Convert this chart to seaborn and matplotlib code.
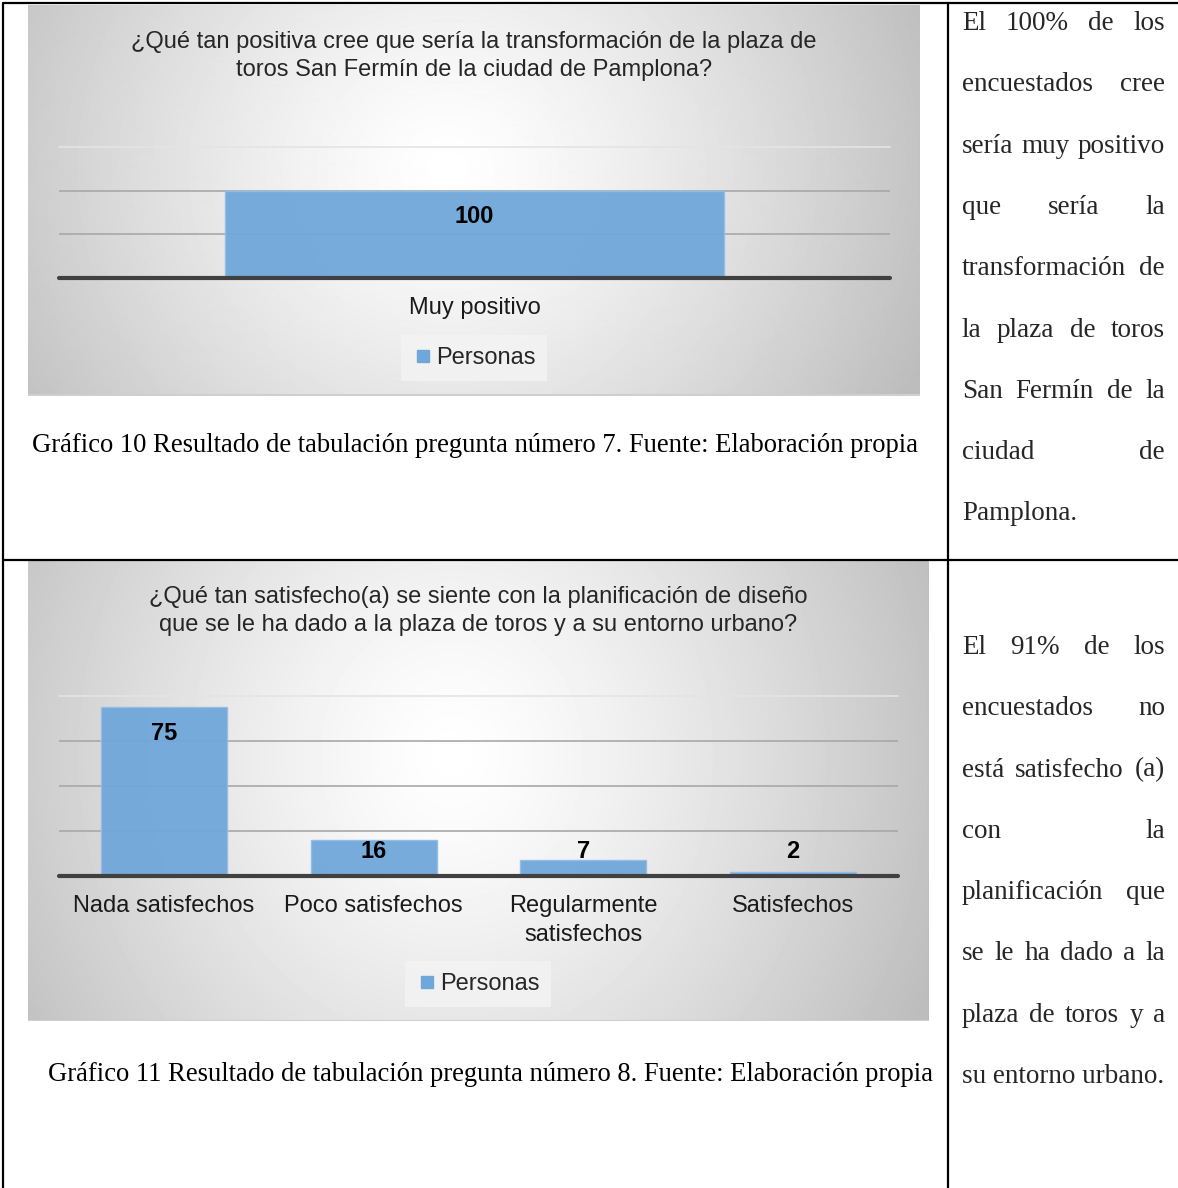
import numpy as np
import matplotlib
matplotlib.use("Agg")
import matplotlib.pyplot as plt
import seaborn as sns
from matplotlib.lines import Line2D

W, H = 1178, 1188

# ---- data ----
q7_title = ("¿Qué tan positiva cree que sería la transformación de la plaza de\n"
            "toros San Fermín de la ciudad de Pamplona?")
q7_categories = ["Muy positivo"]
q7_values = [100]
q7_yticks = [0, 50, 100, 150]

q8_title = ("¿Qué tan satisfecho(a) se siente con la planificación de diseño\n"
            "que se le ha dado a la plaza de toros y a su entorno urbano?")
q8_categories = ["Nada satisfechos", "Poco satisfechos", "Regularmente\nsatisfechos", "Satisfechos"]
q8_values = [75, 16, 7, 2]
q8_yticks = [0, 20, 40, 60, 80]

series_name = "Personas"

caption_10 = "Gráfico 10 Resultado de tabulación pregunta número 7. Fuente: Elaboración propia"
caption_11 = "Gráfico 11 Resultado de tabulación pregunta número 8. Fuente: Elaboración propia"

note_10 = ["El 100% de los", "encuestados cree", "sería muy positivo", "que sería la",
           "transformación de", "la plaza de toros", "San Fermín de la", "ciudad de", "Pamplona."]
note_11 = ["El 91% de los", "encuestados no", "está satisfecho (a)", "con la",
           "planificación que", "se le ha dado a la", "plaza de toros y a", "su entorno urbano."]

BLUE = "#6fa7da"
SANS = ["Liberation Sans", "DejaVu Sans"]
SERIF = ["Liberation Serif", "DejaVu Serif"]
FS = 17

sns.set_style("white")
plt.rcParams["font.family"] = SANS


def fx(px):
    return px / W


def fy(py):
    return 1 - py / H


def px_axes(fig, x0, y0, x1, y1, **kw):
    return fig.add_axes([x0 / W, 1 - y1 / H, (x1 - x0) / W, (y1 - y0) / H], **kw)


def gradient_panel(fig, x0, y0, x1, y1):
    """Grey radial-gradient chart area like the Excel style."""
    ax = px_axes(fig, x0, y0, x1, y1, zorder=0)
    w, h = x1 - x0, y1 - y0
    xx, yy = np.meshgrid(np.arange(w), np.arange(h))
    cx, cy = 0.47 * w, 0.42 * h
    d = np.hypot((xx - cx) / (0.58 * w), (yy - cy) / (1.25 * h))
    shade = 1 - 0.26 * np.clip(d, 0, 1) ** 1.3
    ax.imshow(shade, cmap="gray", vmin=0, vmax=1, aspect="auto", interpolation="bilinear")
    ax.axhline(h - 1, color="#cfcfcf", lw=1.5)
    ax.axis("off")


def bar_chart(fig, box, cats, vals, yticks, legend_xy):
    x0, y0, x1, y1 = box
    ax = px_axes(fig, x0, y0, x1, y1, zorder=2)
    ax.patch.set_alpha(0)
    sns.barplot(x=cats, y=vals, color=BLUE, saturation=1, width=0.6, alpha=0.95,
                edgecolor="#92bde6", linewidth=1, ax=ax, zorder=2)
    ymax = yticks[-1]
    ax.set_ylim(0, ymax)
    ax.set_xlim(-0.5, len(cats) - 0.5)
    for t in yticks[1:-1]:
        ax.axhline(t, color="#a8a8a8", lw=1.2, zorder=0.5)
    ax.axhline(ymax, color="#e4e4e4", lw=1.2, zorder=0.5, clip_on=False)
    ax.axhline(0, color="#404040", lw=3, zorder=3, clip_on=False)

    # value labels: inside the bar end, but never too close to the baseline
    ppu = (y1 - y0) / ymax
    for i, v in enumerate(vals):
        ly = max(v - 26 / ppu, 24 / ppu)
        ax.text(i, ly, str(v), ha="center", va="center", fontsize=17, fontweight="bold",
                color="black", zorder=4)

    for s in ax.spines.values():
        s.set_visible(False)
    ax.set_yticks([])
    ax.set_xlabel("")
    ax.set_ylabel("")
    ax.tick_params(axis="x", length=0, pad=14, labelsize=FS, colors="#1a1a1a")
    for lbl in ax.get_xticklabels():
        lbl.set_linespacing(1.4)

    handle = Line2D([], [], marker="s", color=BLUE, linestyle="none", markersize=8)
    fig.legend(handles=[handle], labels=[series_name], loc="center",
               bbox_to_anchor=(fx(legend_xy[0]), fy(legend_xy[1])),
               frameon=True, fancybox=False, facecolor="#f3f3f3", edgecolor="none",
               framealpha=0.85, fontsize=FS, handletextpad=0.1, borderpad=0.5,
               handlelength=0.9)
    return ax


def fitted_caption(fig, renderer, text, x0, x1, y_base):
    t = fig.text(fx((x0 + x1) / 2), fy(y_base), text, ha="center", va="baseline",
                 family=SERIF, fontsize=17, color="black")
    w = t.get_window_extent(renderer).width
    t.set_fontsize(17 * (x1 - x0) / w)


def justified(fig, renderer, lines, x0, x1, y_first, step, size):
    for k, line in enumerate(lines):
        yb = fy(y_first + k * step)
        words = line.split()
        if k == len(lines) - 1 or len(words) == 1:
            fig.text(fx(x0), yb, line, family=SERIF, fontsize=size, va="baseline")
            continue
        texts = [fig.text(0, yb, wd, family=SERIF, fontsize=size, va="baseline") for wd in words]
        widths = [t.get_window_extent(renderer).width for t in texts]
        gap = (x1 - x0 - sum(widths)) / (len(words) - 1)
        pos = x0
        for t, wdt in zip(texts, widths):
            t.set_x(fx(pos))
            pos += wdt + gap


fig = plt.figure(figsize=(W / 100, H / 100), dpi=100)
fig.patch.set_facecolor("white")
renderer = fig.canvas.get_renderer()

# ---- chart 1 (pregunta 7) ----
gradient_panel(fig, 28, 5, 920, 396)
fig.text(fx(474), fy(56), q7_title, ha="center", va="center", fontsize=FS,
         linespacing=1.38, zorder=5)
bar_chart(fig, (59, 147, 890, 278), q7_categories, q7_values, q7_yticks, (474, 358))
fitted_caption(fig, renderer, caption_10, 31, 919, 452)

# ---- chart 2 (pregunta 8) ----
gradient_panel(fig, 28, 561, 929, 1021)
fig.text(fx(478), fy(611), q8_title, ha="center", va="center", fontsize=FS,
         linespacing=1.38, zorder=5)
bar_chart(fig, (59, 696, 898, 876), q8_categories, q8_values, q8_yticks, (478, 984))
fitted_caption(fig, renderer, caption_11, 47, 935, 1081)

# ---- right column text ----
justified(fig, renderer, note_10, 962, 1165, 30, 61.3, 19.5)
justified(fig, renderer, note_11, 962, 1165, 654, 61.3, 19.5)

# ---- table rules ----
for xs, ys in [((3, 3), (3, 1188)), ((948, 948), (3, 1188)),
               ((3, 1178), (3, 3)), ((3, 1178), (560, 560))]:
    fig.add_artist(Line2D([fx(x) for x in xs], [fy(y) for y in ys],
                          transform=fig.transFigure, color="black", lw=1.6, zorder=10))

fig.savefig("out.png", dpi=100)
